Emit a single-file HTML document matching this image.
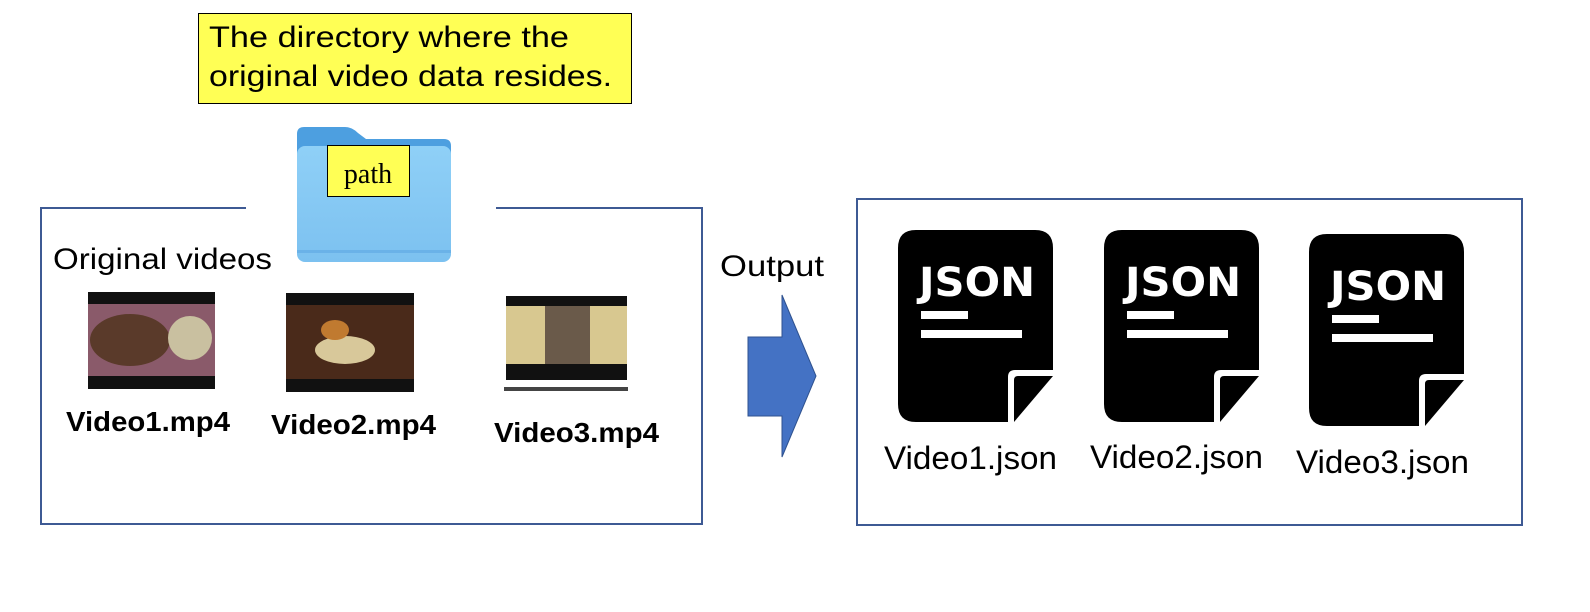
<!DOCTYPE html>
<html><head><meta charset="utf-8"><style>
html,body{margin:0;padding:0;background:#fff;}
svg{display:block;}
</style></head><body>
<svg width="1590" height="612" viewBox="0 0 1590 612" xmlns="http://www.w3.org/2000/svg">
<defs>
<linearGradient id="fold" x1="0" y1="0" x2="0" y2="1">
<stop offset="0" stop-color="#8fd0f7"/><stop offset="1" stop-color="#7cc1f0"/>
</linearGradient>
<g id="json">
<path d="M18 0 H137 Q155 0 155 18 V140 H117 Q110 140 110 147 V192 H18 Q0 192 0 174 V18 Q0 0 18 0 Z" fill="#000"/>
<path d="M116 192 V150 Q116 146 120 146 H155 Z" fill="#000"/>
<text x="21" y="66" font-family="DejaVu Sans, Liberation Sans, sans-serif" font-weight="bold" font-size="40" fill="#fff" textLength="116" lengthAdjust="spacingAndGlyphs">JSON</text>
<rect x="23" y="81" width="47" height="8" fill="#fff"/>
<rect x="23" y="100" width="101" height="8" fill="#fff"/>
</g>
</defs>
<!-- callout -->
<rect x="198.5" y="13.5" width="433" height="90" fill="#ffff55" stroke="#000" stroke-width="1"/>
<text font-family="Liberation Sans, sans-serif" font-size="30" fill="#000"><tspan x="209" y="47" textLength="360" lengthAdjust="spacingAndGlyphs">The directory where the</tspan><tspan x="209" y="86" textLength="403" lengthAdjust="spacingAndGlyphs">original video data resides.</tspan></text>
<!-- left box -->
<path d="M246 208 H41 V524 H702 V208 H496" fill="none" stroke="#3e5a94" stroke-width="2"/>
<!-- folder -->
<path d="M304 127 H345 Q352 127 358 133 L366 139 H444 Q451 139 451 146 V250 Q451 260 441 260 H306 Q297 260 297 250 V134 Q297 127 304 127 Z" fill="#4d9fe0"/>
<rect x="297" y="146" width="154" height="116" rx="8" fill="url(#fold)"/>
<rect x="297" y="250" width="154" height="3" fill="#6ab2e8"/>
<rect x="327.5" y="145.5" width="82" height="51" fill="#ffff55" stroke="#000" stroke-width="1"/>
<text x="368" y="183" text-anchor="middle" font-family="Liberation Serif, serif" font-size="28" fill="#000">path</text>
<text x="53" y="269" font-family="Liberation Sans, sans-serif" font-size="30" fill="#000" textLength="219" lengthAdjust="spacingAndGlyphs">Original videos</text>
<!-- videos -->
<rect x="88" y="292" width="127" height="97" fill="#111"/>
<rect x="88" y="304" width="127" height="72" fill="#8a5a6a"/>
<ellipse cx="130" cy="340" rx="40" ry="26" fill="#5a3a2a"/>
<ellipse cx="190" cy="338" rx="22" ry="22" fill="#c9c0a0"/>
<rect x="286" y="293" width="128" height="99" fill="#111"/>
<rect x="286" y="305" width="128" height="74" fill="#4a2a1a"/>
<ellipse cx="345" cy="350" rx="30" ry="14" fill="#d8c89a"/>
<ellipse cx="335" cy="330" rx="14" ry="10" fill="#c07a30"/>
<rect x="506" y="296" width="121" height="84" fill="#111"/>
<rect x="506" y="306" width="121" height="58" fill="#d8c890"/>
<rect x="545" y="306" width="45" height="58" fill="#6a5a4a"/>
<rect x="504" y="387" width="124" height="4" fill="#444"/>
<text font-family="Liberation Sans, sans-serif" font-weight="bold" font-size="28" fill="#000"><tspan x="66" y="431" textLength="164" lengthAdjust="spacingAndGlyphs">Video1.mp4</tspan><tspan x="271" y="434" textLength="165" lengthAdjust="spacingAndGlyphs">Video2.mp4</tspan><tspan x="494" y="442" textLength="165" lengthAdjust="spacingAndGlyphs">Video3.mp4</tspan></text>
<!-- arrow -->
<text x="720" y="276" font-family="Liberation Sans, sans-serif" font-size="30" fill="#000" textLength="104" lengthAdjust="spacingAndGlyphs">Output</text>
<path d="M748 337 H782 V295 L816 376 L782 457 V416 H748 Z" fill="#4472c4" stroke="#2f528f" stroke-width="1"/>
<!-- right box -->
<rect x="857" y="199" width="665" height="326" fill="none" stroke="#3e5a94" stroke-width="2"/>
<use href="#json" x="898" y="230"/>
<use href="#json" x="1104" y="230"/>
<use href="#json" x="1309" y="234"/>
<text font-family="Liberation Sans, sans-serif" font-size="32" fill="#000"><tspan x="884" y="469" textLength="173" lengthAdjust="spacingAndGlyphs">Video1.json</tspan><tspan x="1090" y="468" textLength="173" lengthAdjust="spacingAndGlyphs">Video2.json</tspan><tspan x="1296" y="473" textLength="173" lengthAdjust="spacingAndGlyphs">Video3.json</tspan></text>
</svg>
</body></html>
